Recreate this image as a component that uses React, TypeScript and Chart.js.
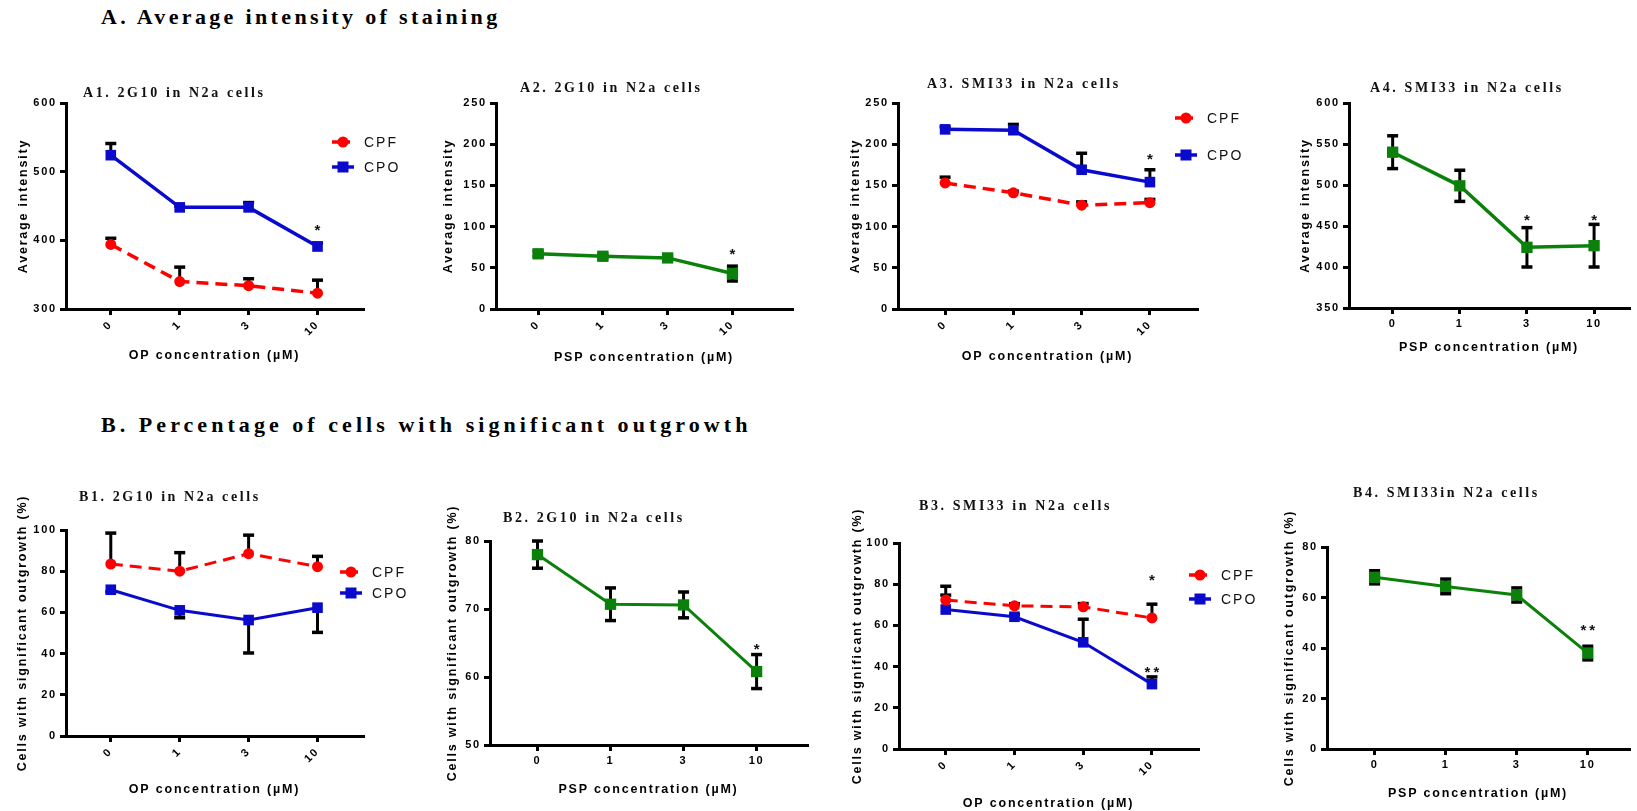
import React, { useEffect, useRef } from 'react';
import { Chart, registerables } from 'chart.js';
Chart.register(...registerables);

// ---------- data ----------
const doseLabels = ['0', '1', '3', '10'];

// A1. 2G10, OP (CPF / CPO) — average intensity
const a1CpfMean = [394, 340, 334, 323];
const a1CpfErr = [9, 21, 10, 19];
const a1CpoMean = [524, 448, 448, 391];
const a1CpoErr = [17, 2, 7, 5];
// A2. 2G10, PSP
const a2PspMean = [67, 64, 62, 43];
const a2PspErr = [3, 2.5, 2, 9];
// A3. SMI33, OP
const a3CpfMean = [153, 141, 126, 129];
const a3CpfErr = [7, 2, 4, 4];
const a3CpoMean = [218, 217, 169, 154];
const a3CpoErr = [3, 7, 20, 15];
// A4. SMI33, PSP
const a4PspMean = [540, 499, 424, 426];
const a4PspErr = [20, 19, 24, 26];
// B1. 2G10, OP — % cells with outgrowth
const b1CpfMean = [83.5, 80, 88.5, 82.2];
const b1CpfErr = [15, 9, 9, 5];
const b1CpoMean = [71, 61, 56.3, 62.3];
const b1CpoErr = [1, 3.6, 16, 12];
// B2. 2G10, PSP
const b2PspMean = [78, 70.7, 70.6, 60.8];
const b2PspErr = [2, 2.4, 1.9, 2.5];
// B3. SMI33, OP
const b3CpfMean = [72.3, 69.5, 69, 63.6];
const b3CpfErr = [6.7, 1, 1.6, 6.7];
const b3CpoMean = [67.7, 64.2, 51.8, 31.5];
const b3CpoErr = [7, 1, 11.2, 3.5];
// B4. SMI33, PSP
const b4PspMean = [68, 64.4, 61, 38];
const b4PspErr = [2.6, 2.9, 2.8, 2.7];

// significance marks: [dose index, y value, text]
const a1Stars = [{ index: 3, y: 420, text: '*' }];
const a2Stars = [{ index: 3, y: 71, text: '*' }];
const a3Stars = [{ index: 3, y: 186, text: '*' }];
const a4Stars = [{ index: 2, y: 462, text: '*' }, { index: 3, y: 462, text: '*' }];
const b1Stars: { index: number; y: number; text: string }[] = [];
const b2Stars = [{ index: 3, y: 64.7, text: '*' }];
const b3Stars = [{ index: 3, y: 84, text: '*' }, { index: 3, y: 39, text: '**' }];
const b4Stars = [{ index: 3, y: 48.6, text: '**' }];

// y-axis ranges [min, max, step]
const a1Y = [300, 600, 100];
const a2Y = [0, 250, 50];
const a3Y = [0, 250, 50];
const a4Y = [350, 600, 50];
const b1Y = [0, 100, 20];
const b2Y = [50, 80, 10];
const b3Y = [0, 100, 20];
const b4Y = [0, 80, 20];

// ---------- styles ----------
const RED = '#ff0000';
const BLUE = '#0a0acd';
const GREEN = '#0b800b';
const SANS = '"Liberation Sans", Arial, sans-serif';
const SERIF = '"Liberation Serif", "Times New Roman", serif';

type Kind = 'cpf' | 'cpo' | 'psp';
type Series = { label: string; kind: Kind; values: number[]; err: number[]; dir: 'up' | 'down' | 'both' };
type Geom = {
  axisL: number; axisR: number; yTop: number; yBot: number;
  yTitleX: number; xTitleY: number; xMin: number; xMax: number; canvasRight: number;
  titleX: number; titleY: number; legend?: { x: number; y1: number; y2: number };
};
type Panel = {
  title: string; yTitle: string; xTitle: string; series: Series[]; yRange: number[];
  stars: { index: number; y: number; text: string }[]; rotate: boolean; lineWidth: number; geom: Geom;
};

const AVG = 'Average intensity';
const PCT = 'Cells with significant outgrowth (%)';
const OPX = 'OP concentration (µM)';
const PSPX = 'PSP concentration (µM)';

const panels: Panel[] = [
  {
    title: 'A1. 2G10 in N2a cells', yTitle: AVG, xTitle: OPX, yRange: a1Y, stars: a1Stars, rotate: true, lineWidth: 3.5,
    series: [
      { label: 'CPF', kind: 'cpf', values: a1CpfMean, err: a1CpfErr, dir: 'up' },
      { label: 'CPO', kind: 'cpo', values: a1CpoMean, err: a1CpoErr, dir: 'up' },
    ],
    geom: { axisL: 66, axisR: 363, yTop: 103, yBot: 309, yTitleX: 23, xTitleY: 355, xMin: -0.65, xMax: 3.66, canvasRight: 410, titleX: 83, titleY: 93, legend: { x: 332, y1: 142, y2: 167 } },
  },
  {
    title: 'A2. 2G10 in N2a cells', yTitle: AVG, xTitle: PSPX, yRange: a2Y, stars: a2Stars, rotate: true, lineWidth: 3.5,
    series: [{ label: 'PSP', kind: 'psp', values: a2PspMean, err: a2PspErr, dir: 'both' }],
    geom: { axisL: 496, axisR: 792, yTop: 103, yBot: 309, yTitleX: 448, xTitleY: 357, xMin: -0.65, xMax: 3.92, canvasRight: 800, titleX: 520, titleY: 88 },
  },
  {
    title: 'A3. SMI33 in N2a cells', yTitle: AVG, xTitle: OPX, yRange: a3Y, stars: a3Stars, rotate: true, lineWidth: 3.5,
    series: [
      { label: 'CPF', kind: 'cpf', values: a3CpfMean, err: a3CpfErr, dir: 'up' },
      { label: 'CPO', kind: 'cpo', values: a3CpoMean, err: a3CpoErr, dir: 'up' },
    ],
    geom: { axisL: 898, axisR: 1197, yTop: 103, yBot: 309, yTitleX: 855, xTitleY: 356, xMin: -0.69, xMax: 3.69, canvasRight: 1250, titleX: 927, titleY: 84, legend: { x: 1175, y1: 118, y2: 155 } },
  },
  {
    title: 'A4. SMI33 in N2a cells', yTitle: AVG, xTitle: PSPX, yRange: a4Y, stars: a4Stars, rotate: false, lineWidth: 3.5,
    series: [{ label: 'PSP', kind: 'psp', values: a4PspMean, err: a4PspErr, dir: 'both' }],
    geom: { axisL: 1349, axisR: 1637, yTop: 103, yBot: 308, yTitleX: 1305, xTitleY: 347, xMin: -0.65, xMax: 3.52, canvasRight: 1637, titleX: 1370, titleY: 88 },
  },
  {
    title: 'B1. 2G10 in N2a cells', yTitle: PCT, xTitle: OPX, yRange: b1Y, stars: b1Stars, rotate: true, lineWidth: 3,
    series: [
      { label: 'CPF', kind: 'cpf', values: b1CpfMean, err: b1CpfErr, dir: 'up' },
      { label: 'CPO', kind: 'cpo', values: b1CpoMean, err: b1CpoErr, dir: 'down' },
    ],
    geom: { axisL: 66, axisR: 363, yTop: 530, yBot: 736, yTitleX: 22, xTitleY: 789, xMin: -0.65, xMax: 3.66, canvasRight: 420, titleX: 79, titleY: 497, legend: { x: 340, y1: 572, y2: 593 } },
  },
  {
    title: 'B2. 2G10 in N2a cells', yTitle: PCT, xTitle: PSPX, yRange: b2Y, stars: b2Stars, rotate: false, lineWidth: 3,
    series: [{ label: 'PSP', kind: 'psp', values: b2PspMean, err: b2PspErr, dir: 'both' }],
    geom: { axisL: 490, axisR: 810, yTop: 541, yBot: 745, yTitleX: 452, xTitleY: 789, xMin: -0.65, xMax: 3.69, canvasRight: 815, titleX: 503, titleY: 518 },
  },
  {
    title: 'B3. SMI33 in N2a cells', yTitle: PCT, xTitle: OPX, yRange: b3Y, stars: b3Stars, rotate: true, lineWidth: 3,
    series: [
      { label: 'CPF', kind: 'cpf', values: b3CpfMean, err: b3CpfErr, dir: 'up' },
      { label: 'CPO', kind: 'cpo', values: b3CpoMean, err: b3CpoErr, dir: 'up' },
    ],
    geom: { axisL: 899, axisR: 1198, yTop: 543, yBot: 749, yTitleX: 857, xTitleY: 803, xMin: -0.68, xMax: 3.67, canvasRight: 1260, titleX: 919, titleY: 506, legend: { x: 1189, y1: 575, y2: 599 } },
  },
  {
    title: 'B4. SMI33in N2a cells', yTitle: PCT, xTitle: PSPX, yRange: b4Y, stars: b4Stars, rotate: false, lineWidth: 3,
    series: [{ label: 'PSP', kind: 'psp', values: b4PspMean, err: b4PspErr, dir: 'both' }],
    geom: { axisL: 1327, axisR: 1637, yTop: 547, yBot: 749, yTitleX: 1289, xTitleY: 793, xMin: -0.67, xMax: 3.58, canvasRight: 1637, titleX: 1353, titleY: 493 },
  },
];

function kindStyle(kind: Kind) {
  if (kind === 'cpf') return { color: RED, pointStyle: 'circle', radius: 5.5, dash: [12, 7] };
  if (kind === 'cpo') return { color: BLUE, pointStyle: 'rect', radius: 7.5, dash: [] as number[] };
  return { color: GREEN, pointStyle: 'rect', radius: 8, dash: [] as number[] };
}

const TITLE_FONT_SIZE = 12.5;
const TITLE_HALF = (TITLE_FONT_SIZE * 1.2) / 2;

function PanelChart({ p }: { p: Panel }) {
  const ref = useRef<HTMLCanvasElement>(null);
  const g = p.geom;
  const canvasLeft = Math.round(g.yTitleX - TITLE_HALF);
  const canvasTop = g.yTop - 60;
  const canvasRight = g.canvasRight;
  const canvasBottom = Math.round(g.xTitleY + TITLE_HALF);
  const W = canvasRight - canvasLeft;
  const H = canvasBottom - canvasTop;

  useEffect(() => {
    const setSpacing = (chart: any) => { (chart.ctx as any).letterSpacing = '1.8px'; };
    const spacingPlugin = { id: 'spacing', beforeUpdate: setSpacing, beforeLayout: setSpacing, beforeDraw: setSpacing };

    const errorPlugin = {
      id: 'errorBars',
      beforeDatasetsDraw(chart: any) {
        const ctx = chart.ctx;
        const xs = chart.scales.x;
        const ys = chart.scales.y;
        ctx.save();
        ctx.strokeStyle = '#000';
        ctx.lineCap = 'butt';
        p.series.forEach((s) => {
          s.values.forEach((v, i) => {
            const e = s.err[i];
            const x = xs.getPixelForValue(i);
            const y = ys.getPixelForValue(v);
            const ends: number[] = [];
            if (s.dir !== 'down') ends.push(ys.getPixelForValue(v + e));
            if (s.dir !== 'up') ends.push(ys.getPixelForValue(v - e));
            ends.forEach((ye) => {
              ctx.lineWidth = 3;
              ctx.beginPath();
              ctx.moveTo(x, y);
              ctx.lineTo(x, ye);
              ctx.stroke();
              ctx.lineWidth = 3.5;
              ctx.beginPath();
              ctx.moveTo(x - 5.5, ye);
              ctx.lineTo(x + 5.5, ye);
              ctx.stroke();
            });
          });
        });
        ctx.restore();
      },
    };

    const starPlugin = {
      id: 'stars',
      afterDatasetsDraw(chart: any) {
        const ctx = chart.ctx;
        const xs = chart.scales.x;
        const ys = chart.scales.y;
        ctx.save();
        ctx.fillStyle = '#111';
        ctx.font = `bold 15px ${SANS}`;
        (ctx as any).letterSpacing = '3px';
        ctx.textAlign = 'center';
        ctx.textBaseline = 'alphabetic';
        p.stars.forEach((st) => {
          ctx.fillText(st.text, xs.getPixelForValue(st.index) + 1.5, ys.getPixelForValue(st.y) + 8.6);
        });
        ctx.restore();
      },
    };

    const legendPlugin = {
      id: 'legendCustom',
      afterDraw(chart: any) {
        if (!g.legend) return;
        const ctx = chart.ctx;
        ctx.save();
        p.series.forEach((s, k) => {
          const st = kindStyle(s.kind);
          const y = (k === 0 ? g.legend!.y1 : g.legend!.y2) - canvasTop;
          const x0 = g.legend!.x - canvasLeft;
          ctx.strokeStyle = st.color;
          ctx.lineWidth = 3.5;
          ctx.setLineDash(s.kind === 'cpf' ? [7, 4] : []);
          ctx.beginPath();
          ctx.moveTo(x0, y);
          ctx.lineTo(x0 + 22, y);
          ctx.stroke();
          ctx.setLineDash([]);
          ctx.fillStyle = st.color;
          if (st.pointStyle === 'circle') {
            ctx.beginPath();
            ctx.arc(x0 + 11, y, 5.5, 0, Math.PI * 2);
            ctx.fill();
          } else {
            ctx.fillRect(x0 + 11 - 5.5, y - 5.5, 11, 11);
          }
          ctx.fillStyle = '#111';
          ctx.font = `14px ${SANS}`;
          (ctx as any).letterSpacing = '2px';
          ctx.textAlign = 'left';
          ctx.textBaseline = 'middle';
          ctx.fillText(s.label, x0 + 32, y + 1);
        });
        ctx.restore();
      },
    };

    const tickFont = { family: SANS, size: 11, weight: 'bold' as const };
    const titleFont = { family: SANS, size: TITLE_FONT_SIZE, weight: 'bold' as const, lineHeight: 1.2 };
    const grid = { display: true, drawOnChartArea: false, drawTicks: true, tickLength: 6, color: '#000', lineWidth: 3 };
    const border = { display: true, color: '#000', width: 3 };

    const datasets = p.series.map((s) => {
      const st = kindStyle(s.kind);
      return {
        label: s.label,
        data: s.values.map((v, i) => ({ x: i, y: v })),
        borderColor: st.color,
        backgroundColor: st.color,
        borderWidth: p.lineWidth,
        borderDash: st.dash,
        pointStyle: st.pointStyle as any,
        pointRadius: st.radius,
        pointBorderWidth: 0,
        pointBackgroundColor: st.color,
        tension: 0,
        fill: false,
      };
    });

    const chart = new Chart(ref.current!, {
      type: 'line',
      data: { datasets },
      options: {
        animation: false,
        responsive: false,
        maintainAspectRatio: false,
        devicePixelRatio: 1,
        layout: { padding: { top: g.yTop - canvasTop, right: canvasRight - g.axisR, left: 0, bottom: 0 } },
        plugins: { legend: { display: false }, tooltip: { enabled: false }, title: { display: false } },
        scales: {
          x: {
            type: 'linear',
            min: g.xMin,
            max: g.xMax,
            afterBuildTicks: (s: any) => { s.ticks = doseLabels.map((_, i) => ({ value: i })); },
            afterFit: (s: any) => { s.height = canvasBottom - g.yBot; },
            ticks: {
              callback: (v: any) => doseLabels[Math.round(Number(v))],
              font: tickFont,
              color: '#000',
              minRotation: p.rotate ? 45 : 0,
              maxRotation: p.rotate ? 45 : 0,
              autoSkip: false,
              padding: 3,
            },
            grid,
            border,
            title: { display: true, text: p.xTitle, font: titleFont, color: '#000', padding: 0 },
          },
          y: {
            type: 'linear',
            min: p.yRange[0],
            max: p.yRange[1],
            afterFit: (s: any) => { s.width = g.axisL - canvasLeft; },
            ticks: { stepSize: p.yRange[2], font: tickFont, color: '#000', padding: 3 },
            grid,
            border,
            title: { display: true, text: p.yTitle, font: titleFont, color: '#000', padding: 0 },
          },
        },
      },
      plugins: [spacingPlugin, errorPlugin, starPlugin, legendPlugin],
    } as any);
    return () => chart.destroy();
  }, []);

  return (
    <>
      <canvas
        ref={ref}
        width={W}
        height={H}
        style={{ position: 'absolute', left: canvasLeft, top: canvasTop, width: W, height: H }}
      />
      <div
        style={{
          position: 'absolute',
          left: g.titleX,
          top: g.titleY - 7,
          fontFamily: SERIF,
          fontWeight: 'bold',
          fontSize: 14,
          lineHeight: '14px',
          letterSpacing: '2.6px',
          whiteSpace: 'nowrap',
          color: '#111',
        }}
      >
        {p.title}
      </div>
    </>
  );
}

export default function App() {
  const heading = (text: string, top: number, spacing: number) => (
    <div
      style={{
        position: 'absolute',
        left: 101,
        top,
        fontFamily: SERIF,
        fontWeight: 'bold',
        fontSize: 22,
        lineHeight: '22px',
        letterSpacing: `${spacing}px`,
        whiteSpace: 'nowrap',
        color: '#000',
      }}
    >
      {text}
    </div>
  );
  return (
    <div style={{ position: 'absolute', left: 0, top: 0, width: 1637, height: 811, background: '#fff', overflow: 'hidden' }}>
      {heading('A. Average intensity of staining', 6, 3.35)}
      {heading('B. Percentage of cells with significant outgrowth', 414, 4.05)}
      {panels.map((p, i) => (
        <PanelChart key={i} p={p} />
      ))}
    </div>
  );
}
